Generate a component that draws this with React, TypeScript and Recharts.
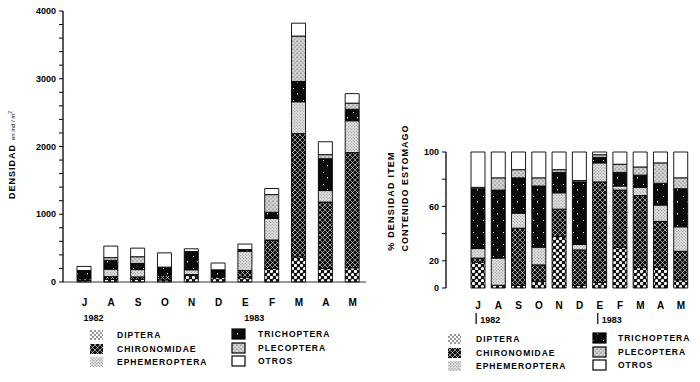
import React from 'react';
import { BarChart, Bar, XAxis, YAxis } from 'recharts';

// ---------- data ----------
const months = ['J', 'A', 'S', 'O', 'N', 'D', 'E', 'F', 'M', 'A', 'M'];
const yearLabels: Record<number, string> = { 0: '1982', 6: '1983' };
const taxa = ['DIPTERA', 'CHIRONOMIDAE', 'EPHEMEROPTERA', 'TRICHOPTERA', 'PLECOPTERA', 'OTROS'];
const taxaKeys = ['dip', 'chi', 'eph', 'tri', 'ple', 'otr'];

// left chart: density (ind/m2)
const densDiptera = [20, 40, 40, 30, 100, 70, 70, 200, 370, 200, 210];
const densChironomidae = [30, 40, 35, 70, 10, 15, 100, 420, 1820, 980, 1700];
const densEphemeroptera = [0, 110, 108, 0, 70, 0, 285, 320, 470, 170, 470];
const densTrichoptera = [120, 130, 90, 120, 270, 95, 25, 90, 300, 470, 170];
const densPlecoptera = [0, 40, 100, 0, 0, 0, 0, 260, 670, 60, 90];
const densOtros = [60, 170, 127, 210, 40, 100, 80, 90, 190, 190, 140];

// right chart: % density in stomach content
const pctDiptera = [19, 2, 2, 5, 38, 2, 4, 30, 15, 15, 6];
const pctChironomidae = [3, 0, 42, 12, 20, 26, 74, 42, 53, 34, 21];
const pctEphemeroptera = [7, 20, 11, 13, 12, 4, 14, 3, 6, 12, 18];
const pctTrichoptera = [44, 50, 26, 45, 15, 46, 4, 10, 9, 16, 28];
const pctPlecoptera = [1, 9, 6, 6, 2, 1, 2, 6, 6, 15, 8];
const pctOtros = [26, 19, 13, 19, 13, 21, 2, 9, 11, 8, 19];

const leftTicks = [0, 200, 400, 600, 800, 1000, 1200, 1400, 1600, 1800, 2000, 2200, 2400, 2600, 2800, 3000, 3200, 3400, 3600, 3800, 4000];
const leftTickLabels = [0, 1000, 2000, 3000, 4000];
const rightTicks = [0, 20, 40, 60, 80, 100];
const rightTickLabels = [0, 20, 60, 100];

const build = (series: number[][]) =>
  months.map((m, i) => {
    const row: any = { key: `${m}${i}` };
    taxaKeys.forEach((k, j) => (row[k] = series[j][i]));
    return row;
  });

const leftData = build([densDiptera, densChironomidae, densEphemeroptera, densTrichoptera, densPlecoptera, densOtros]);
const rightData = build([pctDiptera, pctChironomidae, pctEphemeroptera, pctTrichoptera, pctPlecoptera, pctOtros]);

// ---------- styles ----------
const FONT = '"Liberation Sans", Arial, Helvetica, sans-serif';
const fills: Record<string, string> = {
  dip: 'url(#pDip)',
  chi: 'url(#pChi)',
  eph: 'url(#pEph)',
  tri: 'url(#pTri)',
  ple: 'url(#pPle)',
  otr: '#ffffff',
};
const legendFills: Record<string, string> = { ...fills, dip: 'url(#pDipL)' };

const Patterns = () => (
  <svg width={0} height={0} style={{ position: 'absolute', left: 0, top: 0 }}>
    <defs>
      <pattern id="pDip" width="6" height="6" patternUnits="userSpaceOnUse">
        <rect width="6" height="6" fill="#111" />
        <circle cx="1.5" cy="1.5" r="1.6" fill="#fff" />
        <circle cx="4.5" cy="4.5" r="1.6" fill="#fff" />
      </pattern>
      <pattern id="pDipL" width="4" height="4" patternUnits="userSpaceOnUse">
        <rect width="4" height="4" fill="#fff" />
        <circle cx="1" cy="1" r="0.8" fill="#111" />
        <circle cx="3" cy="3" r="0.8" fill="#111" />
      </pattern>
      <pattern id="pChi" width="5" height="5" patternUnits="userSpaceOnUse">
        <rect width="5" height="5" fill="#0d0d0d" />
        <path d="M0,0 L5,5 M5,0 L0,5" stroke="#fff" strokeWidth="0.55" />
      </pattern>
      <pattern id="pEph" width="3" height="3" patternUnits="userSpaceOnUse">
        <rect width="3" height="3" fill="#e2e2e2" />
        <circle cx="0.75" cy="0.75" r="0.55" fill="#777" />
        <circle cx="2.25" cy="2.25" r="0.55" fill="#888" />
      </pattern>
      <pattern id="pTri" width="10" height="12" patternUnits="userSpaceOnUse">
        <rect width="10" height="12" fill="#0a0a0a" />
        <rect x="3" y="4" width="1" height="1" fill="#fff" />
        <rect x="7" y="9" width="1" height="1.5" fill="#ddd" />
      </pattern>
      <pattern id="pPle" width="4" height="4" patternUnits="userSpaceOnUse">
        <rect width="4" height="4" fill="#d2d2d2" />
        <circle cx="1" cy="1" r="0.6" fill="#333" />
        <circle cx="3" cy="3" r="0.5" fill="#555" />
      </pattern>
    </defs>
  </svg>
);

const LeftTick = (props: any) => {
  const { x, y, payload } = props;
  const i = payload.index;
  return (
    <g>
      <text x={x} y={y + 23.5} textAnchor="middle" fontSize={10} fontWeight="bold" fontFamily={FONT} fill="#000">
        {months[i]}
      </text>
      {yearLabels[i] && (
        <text x={x - 1} y={y + 39} textAnchor="start" fontSize={9} fontWeight="bold" fontFamily={FONT} fill="#000">
          {yearLabels[i]}
        </text>
      )}
    </g>
  );
};

const RightTick = (props: any) => {
  const { x, y, payload } = props;
  const i = payload.index;
  return (
    <g>
      <text x={x} y={y + 21} textAnchor="middle" fontSize={10} fontWeight="bold" fontFamily={FONT} fill="#000">
        {months[i]}
      </text>
      {yearLabels[i] && (
        <g>
          <line x1={x - 2} x2={x - 2} y1={y + 25} y2={y + 36} stroke="#000" strokeWidth={1.2} />
          <text x={x + 2} y={y + 35} textAnchor="start" fontSize={9} fontWeight="bold" fontFamily={FONT} fill="#000">
            {yearLabels[i]}
          </text>
        </g>
      )}
    </g>
  );
};

const Swatch = ({ k, x, y }: { k: string; x: number; y: number }) => {
  const bordered = k === 'tri' || k === 'ple' || k === 'otr';
  return (
    <rect
      x={x}
      y={y}
      width={13}
      height={10}
      fill={legendFills[k]}
      stroke={bordered ? '#000' : 'none'}
      strokeWidth={1.2}
    />
  );
};

const LegendBlock = ({ x1, x2, tx1, tx2, rows }: { x1: number; x2: number; tx1: number; tx2: number; rows: number[] }) => (
  <g>
    {[0, 1, 2].map((r) => (
      <g key={`c1${r}`}>
        <Swatch k={taxaKeys[r]} x={x1} y={rows[r] - 5} />
        <text x={tx1} y={rows[r] + 3.2} fontSize={8.5} fontWeight="bold" letterSpacing={1} fontFamily={FONT} fill="#000">
          {taxa[r]}
        </text>
      </g>
    ))}
    {[3, 4, 5].map((r) => (
      <g key={`c2${r}`}>
        <Swatch k={taxaKeys[r]} x={x2} y={rows[r - 3] - 6} />
        <text x={tx2} y={rows[r - 3] + 1.5} fontSize={8.5} fontWeight="bold" letterSpacing={1} fontFamily={FONT} fill="#000">
          {taxa[r]}
        </text>
      </g>
    ))}
  </g>
);

const yTickStyle = { fontSize: 9, fontWeight: 'bold', fill: '#000', fontFamily: FONT } as any;

export default function App() {
  return (
    <div style={{ position: 'absolute', left: 0, top: 0, width: 700, height: 382, background: '#fff', overflow: 'hidden' }}>
      <Patterns />
      <div style={{ position: 'absolute', left: 0, top: 0 }}>
        <BarChart width={370} height={382} data={leftData} margin={{ top: 11, right: 4, bottom: 70, left: 13 }}>
          <XAxis
            dataKey="key"
            padding={{ left: 8, right: 0 }}
            axisLine={{ stroke: '#333', strokeWidth: 1 }}
            tickLine={false}
            tickSize={0}
            tickMargin={0}
            tick={(p: any) => <LeftTick {...p} />}
            interval={0}
            height={30}
          />
          <YAxis
            width={50}
            domain={[0, 4000]}
            ticks={leftTicks}
            interval={0}
            tickFormatter={(v: number) => (leftTickLabels.includes(v) ? String(v) : '')}
            axisLine={{ stroke: '#000', strokeWidth: 1.3 }}
            tickLine={{ stroke: '#000', strokeWidth: 1 }}
            tickSize={4}
            tickMargin={3}
            tick={yTickStyle}
          />
          {taxaKeys.map((k) => (
            <Bar key={k} dataKey={k} stackId="a" fill={fills[k]} stroke="#000" strokeWidth={0.9} barSize={14} isAnimationActive={false} />
          ))}
        </BarChart>
      </div>
      <div style={{ position: 'absolute', left: 370, top: 0 }}>
        <BarChart width={330} height={382} data={rightData} margin={{ top: 152, right: 9, bottom: 64, left: 36 }}>
          <XAxis
            dataKey="key"
            padding={{ left: 22, right: 0 }}
            axisLine={false}
            tickLine={false}
            tickSize={0}
            tickMargin={0}
            tick={(p: any) => <RightTick {...p} />}
            interval={0}
            height={30}
          />
          <YAxis
            width={40}
            domain={[0, 100]}
            ticks={rightTicks}
            interval={0}
            tickFormatter={(v: number) => (rightTickLabels.includes(v) ? String(v) : '')}
            axisLine={{ stroke: '#000', strokeWidth: 1.3 }}
            tickLine={{ stroke: '#000', strokeWidth: 1 }}
            tickSize={4}
            tickMargin={3}
            tick={yTickStyle}
          />
          {taxaKeys.map((k) => (
            <Bar key={k} dataKey={k} stackId="a" fill={fills[k]} stroke="#000" strokeWidth={0.9} barSize={14} isAnimationActive={false} />
          ))}
        </BarChart>
      </div>
      <svg width={700} height={382} style={{ position: 'absolute', left: 0, top: 0, pointerEvents: 'none' }}>
        <text transform="translate(15,155) rotate(-90)" textAnchor="middle" fontFamily={FONT} fill="#000">
          <tspan fontSize={9} fontWeight="bold" letterSpacing={1}>DENSIDAD</tspan>
          <tspan fontSize={6} dx={4}>en ind / m</tspan>
          <tspan fontSize={5} dy={-3}>2</tspan>
        </text>
        <text transform="translate(394,201) rotate(-90)" textAnchor="middle" fontSize={9} fontWeight="bold" letterSpacing={1.2} fontFamily={FONT} fill="#000">
          % DENSIDAD ITEM
        </text>
        <text transform="translate(408,188) rotate(-90)" textAnchor="middle" fontSize={9} fontWeight="bold" letterSpacing={1} fontFamily={FONT} fill="#000">
          CONTENIDO  ESTOMAGO
        </text>
        <LegendBlock x1={90} x2={232} tx1={117} tx2={258} rows={[335, 349, 362]} />
        <LegendBlock x1={448} x2={593} tx1={476} tx2={618} rows={[339, 353, 366]} />
      </svg>
    </div>
  );
}
